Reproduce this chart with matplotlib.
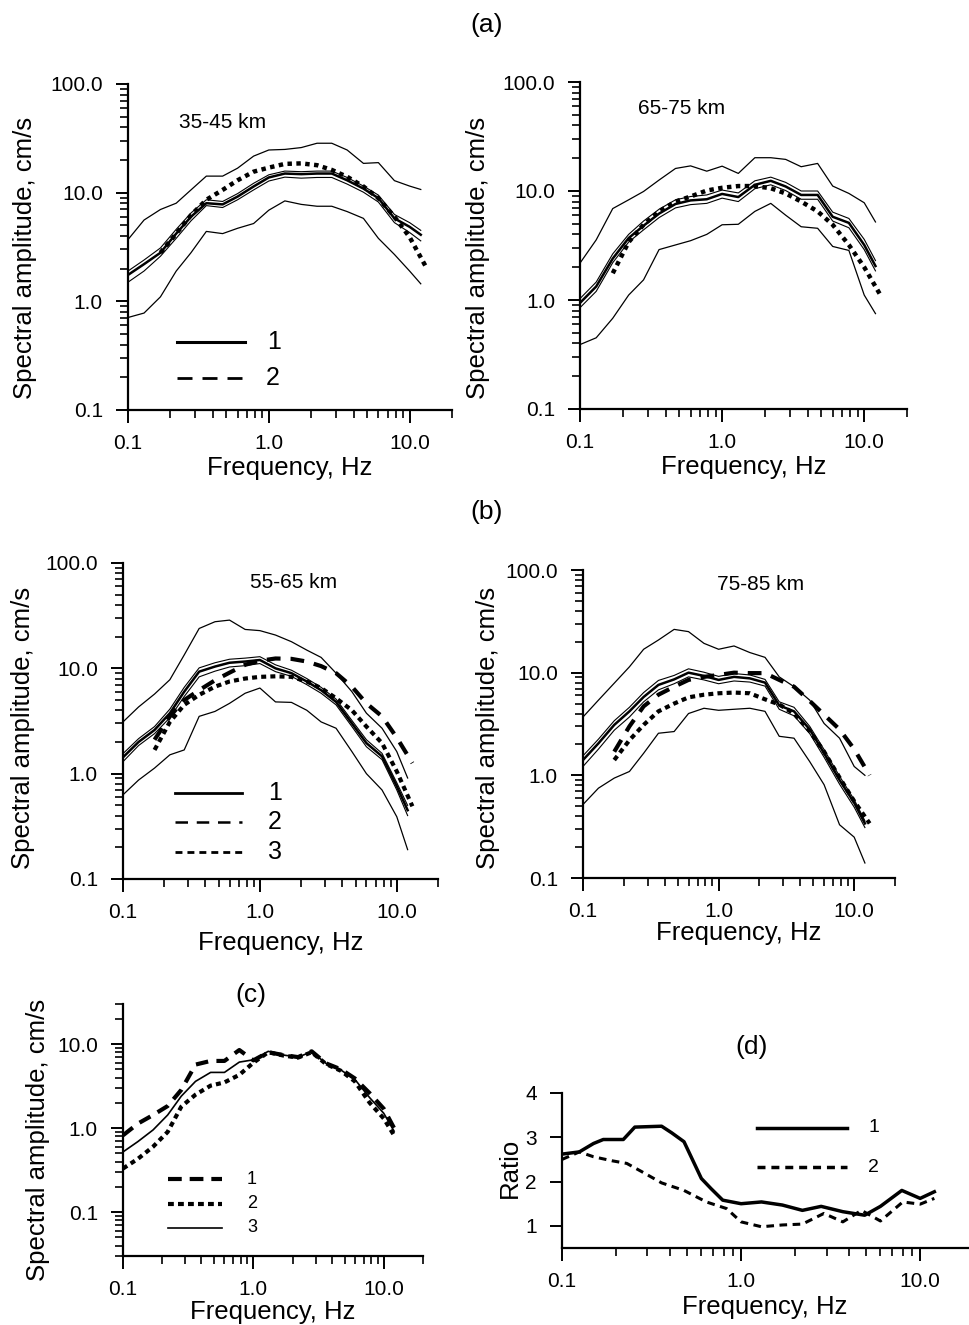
import numpy as np
import matplotlib
matplotlib.use("Agg")
import matplotlib.pyplot as plt
from matplotlib.lines import Line2D
from matplotlib.ticker import FixedLocator, LogLocator, NullFormatter

plt.rcParams['font.family'] = ['Liberation Sans', 'DejaVu Sans']

W, H = 969, 1325

# frequencies, Hz
freq = [0.1, 0.13, 0.17, 0.22, 0.28, 0.36, 0.47, 0.6, 0.78, 1.0,
        1.3, 1.7, 2.2, 2.8, 3.6, 4.7, 6.0, 7.8, 10.0, 12.0]
freq_dot = [0.17, 0.22, 0.28, 0.36, 0.47, 0.6, 0.78, 1.0, 1.3,
            1.7, 2.2, 2.8, 3.6, 4.7, 6.0, 7.8, 10.0, 13.0]

# (a) 35-45 km
a1_hi = [3.7, 5.6, 7.0, 8.0, 10.6, 14.2, 14.2, 16.8, 21.7, 24.7,
         25.0, 26.0, 28.5, 28.5, 24.7, 18.6, 18.9, 12.9, 11.5, 10.7]
a1_lo = [0.71, 0.78, 1.1, 1.9, 2.8, 4.4, 4.2, 4.7, 5.2, 6.9,
         8.4, 7.8, 7.5, 7.5, 6.7, 5.8, 3.8, 2.7, 1.9, 1.45]
a1_mean = [1.75, 2.2, 2.8, 4.2, 6.0, 8.0, 7.8, 9.2, 11.4, 13.8,
           15.0, 14.8, 15.0, 15.0, 13.0, 10.9, 8.9, 5.8, 4.85, 4.1]
a1_mhi = [1.9, 2.4, 3.1, 4.6, 6.5, 8.6, 8.3, 9.8, 12.2, 14.6,
          15.8, 15.6, 15.8, 15.8, 13.8, 11.5, 9.5, 6.3, 5.3, 4.5]
a1_mlo = [1.5, 1.9, 2.6, 3.8, 5.5, 7.6, 7.3, 8.6, 10.6, 12.8,
          13.9, 13.6, 13.8, 13.8, 12.0, 10.1, 8.2, 5.3, 4.3, 3.6]
a1_model = [2.8, 4.2, 6.2, 8.6, 10.6, 13.0, 15.6, 17.0, 18.4,
            18.6, 17.9, 16.2, 14.0, 11.4, 8.9, 6.0, 3.9, 2.1]

# (a) 65-75 km
a2_hi = [2.18, 3.56, 6.9, 8.3, 9.9, 12.6, 16.1, 17.0, 15.2, 16.9,
         14.5, 20.2, 20.2, 19.5, 16.7, 17.9, 11.1, 9.5, 7.8, 5.2]
a2_lo = [0.39, 0.45, 0.68, 1.11, 1.53, 2.9, 3.2, 3.5, 4.0, 4.9,
         4.95, 6.5, 7.7, 6.0, 4.7, 4.55, 3.1, 2.85, 1.11, 0.75]
a2_mean = [0.94, 1.33, 2.4, 3.7, 4.8, 6.2, 7.6, 8.2, 8.4, 9.4,
           8.8, 11.4, 12.4, 11.0, 9.2, 9.2, 5.8, 5.1, 3.2, 2.05]
a2_mhi = [1.03, 1.46, 2.65, 4.0, 5.3, 6.8, 8.3, 8.9, 9.2, 10.2,
          9.6, 12.4, 13.4, 12.0, 10.0, 10.0, 6.4, 5.6, 3.6, 2.3]
a2_mlo = [0.85, 1.2, 2.2, 3.4, 4.4, 5.7, 7.0, 7.5, 7.7, 8.6,
          8.0, 10.5, 11.4, 10.1, 8.4, 8.4, 5.3, 4.6, 2.9, 1.85]
a2_model = [1.76, 3.4, 4.9, 6.5, 8.0, 8.9, 10.1, 10.7, 11.1,
            11.1, 10.6, 9.5, 8.0, 6.5, 4.9, 3.2, 2.0, 1.11]

# (b) 55-65 km
b1_hi = [3.1, 4.3, 5.7, 7.8, 13.4, 23.9, 27.7, 28.7, 23.4, 22.8,
         20.7, 17.9, 14.9, 12.7, 9.0, 6.0, 3.75, 2.7, 1.62, 0.91]
b1_lo = [0.63, 0.87, 1.13, 1.51, 1.68, 3.5, 3.9, 4.65, 5.8, 6.5,
         4.8, 4.75, 4.0, 3.1, 2.7, 1.62, 1.0, 0.70, 0.39, 0.19]
b1_mean = [1.43, 2.0, 2.6, 3.75, 6.0, 9.3, 10.4, 11.3, 11.6, 12.0,
           10.0, 9.0, 7.5, 6.2, 4.8, 3.0, 1.95, 1.46, 0.76, 0.45]
b1_mhi = [1.55, 2.15, 2.8, 4.1, 6.6, 10.1, 11.3, 12.2, 12.5, 12.9,
          10.8, 9.6, 8.0, 6.6, 5.1, 3.2, 2.1, 1.56, 0.82, 0.5]
b1_mlo = [1.3, 1.85, 2.4, 3.4, 5.4, 8.3, 9.4, 10.3, 10.6, 11.1,
          9.3, 8.4, 7.0, 5.8, 4.5, 2.8, 1.8, 1.36, 0.7, 0.4]
b1_model2 = [2.1, 3.5, 5.0, 6.2, 7.7, 9.1, 10.8, 11.8, 12.4,
             12.3, 11.6, 10.5, 9.0, 6.7, 4.65, 3.5, 2.2, 1.26]
b1_model3 = [1.68, 3.1, 4.5, 5.6, 6.7, 7.5, 8.0, 8.3, 8.4,
             8.3, 7.5, 6.5, 5.2, 4.0, 2.8, 1.95, 1.05, 0.49]

# (b) 75-85 km
b2_hi = [3.7, 5.4, 7.9, 11.4, 16.9, 20.8, 26.4, 25.1, 19.3, 16.9,
         18.2, 15.7, 14.1, 9.1, 7.3, 5.4, 3.2, 2.3, 1.22, 1.0]
b2_lo = [0.52, 0.75, 0.94, 1.09, 1.64, 2.57, 2.67, 4.0, 4.5, 4.3,
         4.4, 4.5, 4.2, 2.4, 2.3, 1.36, 0.81, 0.33, 0.25, 0.14]
b2_mean = [1.41, 2.05, 3.1, 4.2, 5.8, 7.6, 8.6, 10.0, 9.3, 8.5,
           9.1, 8.8, 8.0, 4.8, 4.2, 2.8, 1.64, 0.9, 0.54, 0.34]
b2_mhi = [1.55, 2.25, 3.4, 4.6, 6.4, 8.4, 9.4, 10.9, 10.1, 9.2,
          9.8, 9.5, 8.6, 5.2, 4.6, 3.0, 1.78, 0.98, 0.58, 0.36]
b2_mlo = [1.22, 1.8, 2.75, 3.7, 5.2, 6.8, 7.8, 9.1, 8.5, 7.8,
          8.3, 8.1, 7.4, 4.4, 3.8, 2.55, 1.5, 0.82, 0.49, 0.31]
b2_model2 = [1.7, 3.0, 4.7, 6.1, 7.3, 8.5, 9.1, 9.5, 10.0,
             9.9, 9.9, 8.5, 7.3, 5.3, 3.9, 2.8, 1.8, 1.0]
b2_model3 = [1.41, 2.2, 3.1, 4.2, 5.0, 5.75, 6.1, 6.3, 6.4,
             6.3, 5.5, 4.9, 4.0, 2.7, 1.7, 0.95, 0.56, 0.34]

# (c)
c1 = [0.82, 1.13, 1.43, 1.83, 2.85, 5.7, 6.3, 6.3, 8.5, 6.4,
      8.0, 7.4, 7.0, 8.2, 5.9, 5.0, 3.9, 2.6, 1.7, 1.0]
c2 = [0.33, 0.43, 0.6, 0.9, 1.8, 2.5, 3.2, 3.5, 4.3, 6.0,
      8.0, 7.3, 6.9, 8.0, 5.8, 4.8, 3.6, 2.0, 1.3, 0.82]
c3 = [0.52, 0.69, 0.95, 1.43, 2.4, 3.6, 4.6, 4.6, 6.1, 6.5,
      8.2, 7.4, 7.0, 8.1, 5.9, 4.9, 3.8, 2.3, 1.5, 0.92]

# (d) ratio
d1_f = [0.1, 0.125, 0.15, 0.17, 0.22, 0.255, 0.36, 0.41, 0.48, 0.6, 0.68, 0.79,
        1.0, 1.3, 1.7, 2.2, 2.8, 3.7, 4.9, 6.0, 7.9, 10.0, 12.0]
d1 = [2.62, 2.67, 2.86, 2.95, 2.95, 3.23, 3.25, 3.1, 2.9, 2.07, 1.84, 1.58,
      1.5, 1.54, 1.47, 1.35, 1.44, 1.32, 1.24, 1.44, 1.8, 1.62, 1.77]
d2_f = [0.1, 0.125, 0.15, 0.19, 0.23, 0.28, 0.36, 0.48, 0.64, 0.83,
        1.0, 1.3, 1.7, 2.2, 2.9, 3.7, 4.7, 6.0, 8.0, 10.0, 12.0]
d2 = [2.5, 2.67, 2.56, 2.47, 2.41, 2.22, 1.97, 1.8, 1.54, 1.39,
      1.09, 0.98, 1.02, 1.04, 1.28, 1.09, 1.35, 1.11, 1.54, 1.49, 1.62]

fig = plt.figure(figsize=(W / 100, H / 100), dpi=100)


def add_ax(l, r, t, b):
    return fig.add_axes([l / W, 1 - b / H, (r - l) / W, (b - t) / H])


def style(ax, box, ylab, ylab_right, ylab_cy, xlab_top, yticks, ylabels):
    l, r, t, b = box
    for s in ['top', 'right']:
        ax.spines[s].set_visible(False)
    for s in ['left', 'bottom']:
        ax.spines[s].set_linewidth(1.6)
    ax.set_xscale('log')
    ax.xaxis.set_major_locator(FixedLocator([0.1, 1.0, 10.0]))
    ax.set_xticklabels(['0.1', '1.0', '10.0'])
    ax.xaxis.set_minor_locator(LogLocator(base=10, subs=np.arange(2, 10)))
    ax.xaxis.set_minor_formatter(NullFormatter())
    ax.yaxis.set_major_locator(FixedLocator(yticks))
    ax.set_yticklabels(ylabels)
    ax.tick_params(which='major', direction='out', length=9, width=1.4,
                   labelsize=15, pad=8)
    ax.tick_params(which='minor', direction='out', length=5.5, width=1.2)
    ax.tick_params(axis='y', which='major', pad=9)
    ax.set_xlabel('Frequency, Hz', fontsize=18.5)
    ax.xaxis.set_label_coords(0.5, -(xlab_top - b) / (b - t))
    ax.set_ylabel(ylab, fontsize=18.5)
    ax.yaxis.set_label_coords(-(l - ylab_right) / (r - l), (b - ylab_cy) / (b - t))


def leg(x0, x1, y, label, lx, fs, **kw):
    fig.add_artist(Line2D([x0 / W, x1 / W], [1 - y / H, 1 - y / H],
                          transform=fig.transFigure, color='k', **kw))
    fig.text(lx / W, 1 - y / H, label, fontsize=fs, ha='left', va='center')


def spectra(ax, hi, lo, mhi, mean, mlo):
    ax.plot(freq, hi, color='k', lw=0.9)
    ax.plot(freq, lo, color='k', lw=0.9)
    ax.plot(freq, mhi, color='k', lw=0.8)
    ax.plot(freq, mlo, color='k', lw=0.8)
    ax.plot(freq, mean, color='k', lw=1.8)


amp_ticks = [0.1, 1.0, 10.0, 100.0]
amp_labels = ['0.1', '1.0', '10.0', '100.0']
amp_label = 'Spectral amplitude, cm/s'
dots = (0, (1, 1))

# ---- (a) left
box = (128, 452, 84, 410)
ax = add_ax(*box)
spectra(ax, a1_hi, a1_lo, a1_mhi, a1_mean, a1_mlo)
ax.plot(freq_dot, a1_model, color='k', lw=3.2, ls=dots)
ax.set_xlim(0.1, 20)
ax.set_ylim(0.1, 100)
ax.set_yscale('log')
style(ax, box, amp_label, 37, 258, 456, amp_ticks, amp_labels)
ax.yaxis.set_minor_locator(LogLocator(base=10, subs=np.arange(2, 10)))
ax.yaxis.set_minor_formatter(NullFormatter())
fig.text(223 / W, 1 - 123 / H, '35-45 km', fontsize=15, ha='center', va='center')
leg(177, 245, 342, '1', 267, 18, lw=2.2)
leg(177, 245, 378, '2', 266, 18, lw=2.0, ls=(0, (5.4, 3.6)))

# ---- (a) right
box = (580, 907, 82, 409)
ax = add_ax(*box)
spectra(ax, a2_hi, a2_lo, a2_mhi, a2_mean, a2_mlo)
ax.plot(freq_dot, a2_model, color='k', lw=3.2, ls=dots)
ax.set_xlim(0.1, 20)
ax.set_ylim(0.1, 100)
ax.set_yscale('log')
style(ax, box, amp_label, 490, 258, 455, amp_ticks, amp_labels)
ax.yaxis.set_minor_locator(LogLocator(base=10, subs=np.arange(2, 10)))
ax.yaxis.set_minor_formatter(NullFormatter())
fig.text(682 / W, 1 - 109 / H, '65-75 km', fontsize=15, ha='center', va='center')

# ---- (b) left
box = (123, 438, 563, 879)
ax = add_ax(*box)
spectra(ax, b1_hi, b1_lo, b1_mhi, b1_mean, b1_mlo)
ax.plot(freq_dot, b1_model2, color='k', lw=3.0, ls=(0, (3.3, 2.4)))
ax.plot(freq_dot, b1_model3, color='k', lw=3.0, ls=(0, (1.2, 1)))
ax.set_xlim(0.1, 20)
ax.set_ylim(0.1, 100)
ax.set_yscale('log')
style(ax, box, amp_label, 35, 728, 931, amp_ticks, amp_labels)
ax.yaxis.set_minor_locator(LogLocator(base=10, subs=np.arange(2, 10)))
ax.yaxis.set_minor_formatter(NullFormatter())
fig.text(294 / W, 1 - 582 / H, '55-65 km', fontsize=15, ha='center', va='center')
leg(175, 242, 793, '1', 268, 18, lw=2.0)
leg(175, 242, 822, '2', 268, 18, lw=1.8, ls=(0, (5, 3.5)))
leg(175, 242, 852, '3', 268, 18, lw=2.0, ls=(0, (2.5, 1.8)))

# ---- (b) right
box = (583, 895, 570, 878)
ax = add_ax(*box)
spectra(ax, b2_hi, b2_lo, b2_mhi, b2_mean, b2_mlo)
ax.plot(freq_dot, b2_model2, color='k', lw=3.0, ls=(0, (3.3, 2.4)))
ax.plot(freq_dot, b2_model3, color='k', lw=3.0, ls=(0, (1.2, 1)))
ax.set_xlim(0.1, 20)
ax.set_ylim(0.1, 100)
ax.set_yscale('log')
style(ax, box, amp_label, 500, 728, 921, amp_ticks, amp_labels)
ax.yaxis.set_minor_locator(LogLocator(base=10, subs=np.arange(2, 10)))
ax.yaxis.set_minor_formatter(NullFormatter())
fig.text(761 / W, 1 - 585 / H, '75-85 km', fontsize=15, ha='center', va='center')

# ---- (c)
box = (123, 423, 1004, 1256)
ax = add_ax(*box)
ax.plot(freq, c1, color='k', lw=3.0, ls=(0, (3, 2)))
ax.plot(freq, c2, color='k', lw=3.0, ls=(0, (1.2, 1)))
ax.plot(freq, c3, color='k', lw=1.2)
ax.set_xlim(0.1, 20)
ax.set_ylim(0.03, 30)
ax.set_yscale('log')
style(ax, box, amp_label, 50, 1140, 1300, [0.1, 1.0, 10.0], ['0.1', '1.0', '10.0'])
ax.yaxis.set_minor_locator(LogLocator(base=10, subs=np.arange(2, 10)))
ax.yaxis.set_minor_formatter(NullFormatter())
leg(168, 222, 1179, '1', 247, 13, lw=3.0, ls=(0, (3.3, 1.9)))
leg(168, 222, 1204, '2', 247, 13, lw=3.0, ls=(0, (1.4, 1.0)))
leg(168, 222, 1228, '3', 247, 13, lw=1.2)

# ---- (d)
box = (562, 968, 1093, 1248)
ax = add_ax(*box)
ax.plot(d1_f, d1, color='k', lw=2.5)
ax.plot(d2_f, d2, color='k', lw=2.2, ls=(0, (2.5, 1.8)))
ax.set_xlim(0.1, 18.5)
ax.set_ylim(0.5, 4.0)
style(ax, box, 'Ratio', 522, 1168, 1295, [1, 2, 3, 4], ['1', '2', '3', '4'])
ax.yaxis.set_minor_locator(FixedLocator([]))
leg(757, 847, 1128, '1', 868, 14, lw=2.5)
leg(757, 847, 1167, '2', 868, 14, lw=2.5, ls=(0, (2.3, 1.7)))

# panel letters
fig.text(487 / W, 1 - 25 / H, '(a)', fontsize=19, ha='center', va='center')
fig.text(487 / W, 1 - 512 / H, '(b)', fontsize=19, ha='center', va='center')
fig.text(251 / W, 1 - 995 / H, '(c)', fontsize=19, ha='center', va='center')
fig.text(752 / W, 1 - 1047 / H, '(d)', fontsize=19, ha='center', va='center')

fig.savefig('out.png', dpi=100)
